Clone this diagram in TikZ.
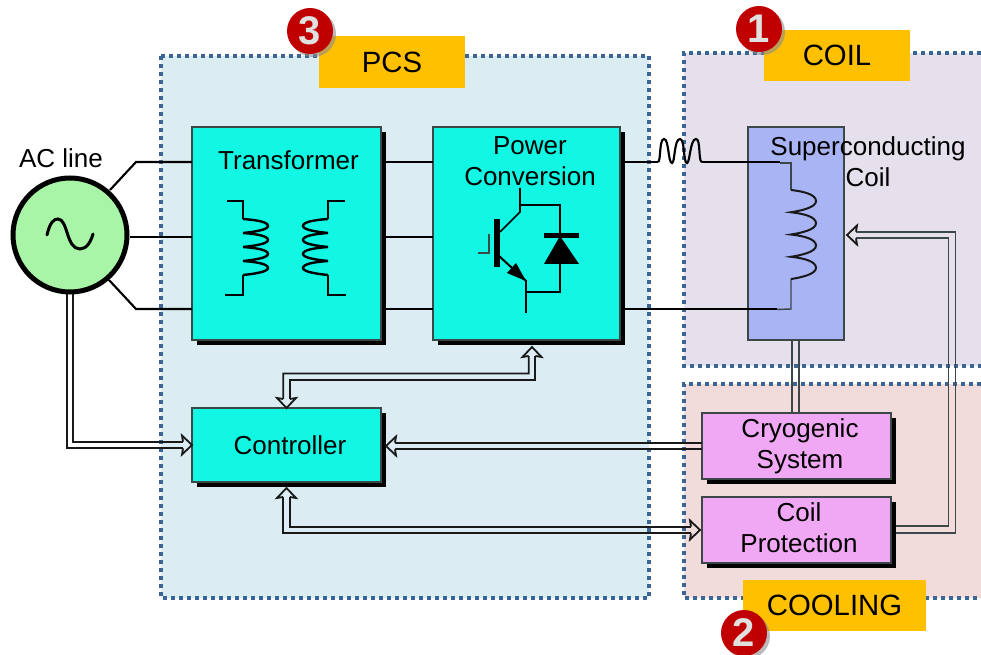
\documentclass[tikz,border=0pt]{standalone}
\usepackage{fontspec}
\setmainfont{Liberation Sans}
\usetikzlibrary{calc,shadows,arrows.meta}
\definecolor{pcsbg}{HTML}{DBEDF3}
\definecolor{coilbg}{HTML}{E5E0EC}
\definecolor{coolbg}{HTML}{F2DCDB}
\definecolor{dotc}{HTML}{3B6595}
\definecolor{teal}{HTML}{12F7E3}
\definecolor{pinkb}{HTML}{F0A8F4}
\definecolor{blueb}{HTML}{A9B4F4}
\definecolor{greenb}{HTML}{A9F5A8}
\definecolor{orangeb}{HTML}{FFC000}
\definecolor{redb}{HTML}{C00000}
\definecolor{edgec}{HTML}{3C4848}
\tikzset{
  dotline/.style={draw=dotc,line width=2.6pt,dash pattern=on 2.8pt off 3.2pt},
  shadowbox/.style={draw=edgec,line width=1.1pt,inner sep=0pt,outer sep=0pt,align=center,
    drop shadow={shadow xshift=3.75pt,shadow yshift=-3.75pt,fill=black,opacity=1}},
  tealbox/.style={shadowbox,fill=teal,minimum width=141.75pt},
  pinkbox/.style={shadowbox,fill=pinkb,minimum width=141.75pt,minimum height=49.5pt},
  tag/.style={fill=orangeb,inner sep=0pt,font=\fontsize{22}{25}\selectfont},
  txt/.style={inner sep=0pt,align=center,font=\fontsize{19.5}{23.2}\selectfont},
  wire/.style={draw=black,line width=1.6pt},
  thin wire/.style={draw=edgec,line width=1.1pt},
  sym/.style={draw=black,line width=1.2pt},
  dbl/.style={draw=black!90,line width=1.35pt},
  badge/.style={circle,fill=redb,minimum size=34.5pt,inner sep=0pt,text=white!88!black,font=\fontsize{30}{30}\bfseries\selectfont},
  badgeshadow/.style={circle,fill=black!45,minimum size=34.5pt,inner sep=0pt,opacity=.6},
}
% open arrow head: #1 tip coordinate, #2 direction, #3 fill
\newcommand{\openhead}[3]{\begin{scope}[shift={(#1)},rotate=#2]
  \fill[#3] (-9,3.3) -- (-10,9.5) -- (0,0) -- (-10,-9.5) -- (-9,-3.3) -- cycle;
  \draw[dbl,line join=miter] (-9,3.3) -- (-10,9.5) -- (0,0) -- (-10,-9.5) -- (-9,-3.3);
\end{scope}}
\newcommand{\winding}[4]{\begin{scope}[shift={(#1)},xscale=#2,yscale=#3]
  \draw[#4] (0,0) .. controls (14,1) and (25,3) .. (25,7) .. controls (25,11) and (10,13) .. (0,14)
     .. controls (14,15) and (25,17) .. (25,21) .. controls (25,25) and (10,27) .. (0,28)
     .. controls (14,29) and (25,31) .. (25,35) .. controls (25,39) and (10,41) .. (0,42)
     .. controls (14,43) and (25,45) .. (25,49) .. controls (25,53) and (10,55) .. (0,56);
\end{scope}}
\begin{document}
\begin{tikzpicture}[x=0.75pt,y=-0.75pt,line cap=butt,line join=miter]
\useasboundingbox (0,0) rectangle (981,655);
% regions
\fill[pcsbg] (161,56) rectangle (649,598);
\fill[coilbg] (684,53) rectangle (981,366);
\fill[coolbg] (684,384) rectangle (981,598);
\draw[dotline] (161,56) rectangle (649,598);
\draw[dotline] (981,53) -- (684,53) -- (684,366) -- (981,366);
\draw[dotline] (981,384) -- (684,384) -- (684,598) -- (981,598);
% boxes
\node[circle,draw=black,line width=3.75pt,fill=greenb,minimum size=85.5pt,inner sep=0pt] (ac) at (70,235) {};
\node[tealbox,minimum height=159.75pt] (tr) at (286.5,233.5) {};
\node[tealbox,minimum width=140.25pt,minimum height=159.75pt] (pc) at (526.5,233.5) {};
\node[tealbox,minimum height=55.5pt] (ctrl) at (286.5,445) {};
\node[draw=edgec,line width=1.1pt,fill=blueb,inner sep=0pt,outer sep=0pt,minimum width=72pt,minimum height=159.75pt] (sc) at (796,233.5) {};
\node[pinkbox] (cry) at (796.5,446) {};
\node[pinkbox] (cp) at (796.5,530) {};
% texts
\node[txt] (actxt) at (61,158) {AC line};
\node[txt] (trtxt) at (288.5,160) {Transformer};
\node[txt] (pctxt) at (530,161) {Power\\Conversion};
\node[txt] (sctxt) at (868,162) {Superconducting\\Coil};
\node[txt] (ctrltxt) at (290,445) {Controller};
\node[txt] (crytxt) at (800,446.5) {Cryogenic\\System};
\node[txt] (cptxt) at (799,528) {Coil\\Protection};
% AC sine
\draw[line width=2.25pt,line cap=round] (47,235) .. controls (50,222) and (54,219) .. (58,219) .. controls (68,219) and (66,249) .. (80,249) .. controls (87,249) and (91,241) .. (93,234);
% three phase wires
\coordinate (t1) at ($(tr.north west)+(0,35)$);
\coordinate (t2) at ($(tr.north west)+(0,110)$);
\coordinate (t3) at ($(tr.north west)+(0,182)$);
\coordinate (acn) at ($(ac.center)+(40,-45)$);
\coordinate (acs) at ($(ac.center)+(39,45)$);
\draw[wire] (acn) -- (136,162) -- (t1);
\draw[wire] ($(ac.east)+(0,2)$) -- (t2);
\draw[wire] (acs) -- (136,309) -- (t3);
\foreach \yy in {35,110,182}{
  \draw[wire] ($(tr.north east)+(5,\yy)$) -- ($(pc.north west)+(0,\yy)$);
}
% power output to coil
\coordinate (pu) at ($(pc.north east)+(5,35)$);
\coordinate (pl) at ($(pc.north east)+(5,182)$);
\coordinate (ind1) at (658,162);
\coordinate (ind2) at (702,162);
\coordinate (cu) at (791,163);
\coordinate (cl) at (791,309);
\draw[wire] (pu) -- (ind1);
\draw[wire] (ind1) .. controls (661,162) and (659,139) .. (664,139) .. controls (669,139) and (668,163) .. (672,163)
  .. controls (675,163) and (674,139) .. (680,139) .. controls (685,139) and (683,163) .. (687,163)
  .. controls (690,163) and (690,139) .. (696,139) .. controls (701,139) and (698,162) .. (ind2);
\draw[wire] (ind2) -- (780,162);
\draw[wire] (pl) -- (777,309);
\draw[thin wire] (780,163) -- (cu) -- (791,190);
\draw[thin wire] (777,309.5) -- (cl) -- (791,279);
\winding{791,190}{1}{1.59}{line width=1.5pt,draw=black!90}
% transformer symbol
\draw[sym] (227,201) -- (243,201) -- (243,219);
\draw[sym] (225,295) -- (243,295) -- (243,275);
\draw[sym] (345,201) -- (328,201) -- (328,219);
\draw[sym] (346,295) -- (328,295) -- (328,275);
\winding{243,219}{1}{1}{line width=1.8pt,draw=black}
\winding{328,219}{-1}{1}{line width=1.8pt,draw=black}
% IGBT
\draw[sym] (520,188) -- (520,212) -- (500,232);
\draw[sym] (520,205) -- (560,205) -- (560,292) -- (526,292);
\draw[sym] (526,280) -- (526,313);
\draw[sym,line width=1.5pt] (498,255) -- (526,281);
\fill[black] (526,281) -- (507,273) -- (516,263) -- cycle;
\fill[black] (494,219) rectangle (499.5,267);
\draw[sym,draw=edgec] (489,234) -- (489,253) -- (478,253);
\fill[black] (544,233) rectangle (579,238);
\fill[black] (560,236) -- (579,264) -- (544,264) -- cycle;
% connectors
\coordinate (v1) at ($(sc.south)+(-4,0)$);
\coordinate (v2) at ($(sc.south)+(3,0)$);
\draw[dbl,draw=edgec] (v1) -- (v1 |- cry.north);
\draw[dbl,draw=edgec] (v2) -- (v2 |- cry.north);
% AC to controller
\coordinate (h1) at (ctrl.west);
\draw[dbl] ($(ac.south)+(-3,0)$) |- ($(ctrl.west)+(-9,3)$);
\draw[dbl] ($(ac.south)+(3,0)$) |- ($(ctrl.west)+(-9,-3)$);
\openhead{h1}{0}{pcsbg}
% controller <-> power
\coordinate (h2) at ($(pc.south)+(5.5,7)$);
\coordinate (h3) at (ctrl.north);
\draw[dbl] ($(h3)+(-3.3,-9)$) -- (283.2,373.5) -- (528.7,373.5) -- ($(h2)+(-3.3,9)$);
\draw[dbl] ($(h3)+(3.3,-9)$) -- (289.8,380) -- (535.3,380) -- ($(h2)+(3.3,9)$);
\openhead{h2}{90}{pcsbg}
\openhead{h3}{-90}{pcsbg}
% cryogenic to controller
\coordinate (h4) at ($(ctrl.east)+(5,1)$);
\draw[dbl] ($(cry.west)+(0,-3)$) -- ($(h4)+(9,-3)$);
\draw[dbl] ($(cry.west)+(0,3)$) -- ($(h4)+(9,3)$);
\openhead{h4}{180}{pcsbg}
% controller <-> coil protection
\coordinate (h5) at ($(ctrl.south)+(0,6)$);
\coordinate (h6) at ($(cp.west)+(-2,0)$);
\draw[dbl] ($(h5)+(-3.3,9)$) |- ($(h6)+(-9,3)$);
\draw[dbl] ($(h5)+(3.3,9)$) |- ($(h6)+(-9,-3)$);
\openhead{h5}{90}{pcsbg}
\openhead{h6}{0}{coolbg}
% coil protection to coil
\coordinate (h7) at ($(sc.east)+(3,1.5)$);
\draw[dbl,draw=edgec] ($(cp.east)+(5,3)$) -- (955.5,533) -- (955.5,232) -- ($(h7)+(9,-3)$);
\draw[dbl,draw=edgec] ($(cp.east)+(5,-4)$) -- (948.5,526) -- (948.5,238) -- ($(h7)+(9,3)$);
\openhead{h7}{180}{coilbg}
% tags
\node[tag,minimum width=109.5pt,minimum height=39pt] (tpcs) at (392,62) {PCS};
\node[tag,minimum width=109.5pt,minimum height=38.25pt] (tcoil) at (837,55.5) {COIL};
\node[tag,minimum width=137.25pt,minimum height=38.25pt] (tcool) at (834.5,605.5) {COOLING};
% badges
\node[badgeshadow] (s3) at (313,34) {};
\node[badge] (b3) at (310,31) {3};
\node[badgeshadow] (s1) at (762,32) {};
\node[badge] (b1) at (759,29) {1};
\node[badgeshadow] (s2) at (747,636) {};
\node[badge] (b2) at (744,633) {2};
\end{tikzpicture}
\end{document}
